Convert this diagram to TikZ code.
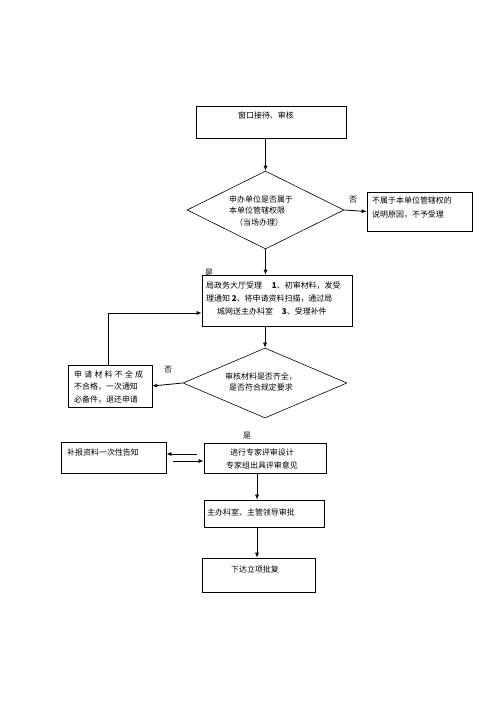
\documentclass[tikz,border=0pt]{standalone}
\usepackage{fontspec}
\setmainfont{Noto Sans CJK SC}
\usetikzlibrary{arrows.meta,shapes.geometric}
\begin{document}
\begin{tikzpicture}[x=1bp,y=-1bp,
  every node/.style={font=\fontsize{8}{13.5}\selectfont, inner sep=0pt},
  box/.style={draw=black, line width=0.6bp, rectangle, minimum width=#1},
  dia/.style={draw=black, line width=0.6bp, diamond, inner sep=0pt},
  arr/.style={line width=0.8bp, -{Latex[length=5bp,width=4bp]}},
  ln/.style={line width=0.8bp}]
\useasboundingbox (0,0) rectangle (500,707);
% boxes
\node[box=150bp, minimum height=32bp] (b1) at (271.5,122.5) {};
\node[dia, minimum width=157bp, minimum height=78bp] (d1) at (265.5,210) {};
\node[box=105bp, minimum height=39bp] (br) at (419.5,211.5) {};
\node[box=150bp, minimum height=51bp] (b3) at (277,300.5) {};
\node[dia, minimum width=164bp, minimum height=70bp] (d2) at (265,383) {};
\node[box=84bp, minimum height=42bp] (bl) at (110,386) {};
\node[box=105bp, minimum height=31bp] (bs) at (113.5,457.5) {};
\node[box=122bp, minimum height=30bp] (be) at (265,458) {};
\node[box=120bp, minimum height=27bp] (bz) at (264,513.5) {};
\node[box=113bp, minimum height=34bp] (bx) at (258.5,575) {};
% texts
\node (t1) at (266,115) {窗口接待、审核};
\node[anchor=west, align=left, font=\fontsize{8}{12}\selectfont] (td1) at (229,211) {申办单位是否属于\\本单位管辖权限\\\hspace*{6bp}（当场办理）};
\node[anchor=west, align=left, font=\fontsize{8}{14}\selectfont] (tr) at (372,208) {不属于本单位管辖权的\\说明原因，不予受理};
\node[anchor=west, align=left] (t3) at (206,298.5) {局政务大厅受理\hspace{10bp}\textbf{1}、初审材料，发受\\理通知 \textbf{2}、将申请资料扫描，通过局\\\hspace*{11bp}城网送主办科室\hspace{9bp}\textbf{3}、受理补件};
\node[align=center, font=\fontsize{8}{11}\selectfont] (td2) at (261,382) {审核材料是否齐全，\\是否符合规定要求};
\node[anchor=west, align=left, font=\fontsize{8}{13}\selectfont] (tl) at (74,387) {\makebox[69bp][s]{申\hfill 请\hfill 材\hfill 料\hfill 不\hfill 全\hfill 成}\\不合格，一次通知\\必备件，退还申请};
\node[anchor=west] (ts) at (67,452) {补报资料一次性告知};
\node[align=center, font=\fontsize{8}{13}\selectfont] (te) at (262,458.5) {进行专家评审设计\\专家组出具评审意见};
\node[anchor=west] (tz) at (207,512) {主办科室、主管领导审批};
\node (tx) at (255,569) {下达立项批复};
% labels
\node (lno1) at (353,200) {否};
\node (lyes1) at (209,273) {是};
\node (lno2) at (168,370) {否};
\node (lyes2) at (247,436) {是};
% connectors
\coordinate (c1) at (108,313);
\draw[arr] (b1.south -| d1.north) -- (d1.north);
\draw[arr] (d1.east) -- (br.west);
\draw[arr] (d1.south) -- (d1.south |- b3.north);
\draw[arr] (b3.south -| d2.north) -- (d2.north);
\draw[arr] (d2.west) -- (bl.east);
\draw[arr] (c1 |- bl.north) -- (c1) -- (c1 -| b3.west);
\coordinate (c2) at (197,454);
\coordinate (c3) at (173,461);
\draw[arr] (c2) -- (c2 -| bs.east);
\draw[arr] (c3) -- (c3 -| be.west);
\coordinate (c4) at (257,0);
\draw[arr] (c4 |- be.south) -- (c4 |- bz.north);
\draw[arr] (c4 |- bz.south) -- (c4 |- bx.north);
\end{tikzpicture}
\end{document}
